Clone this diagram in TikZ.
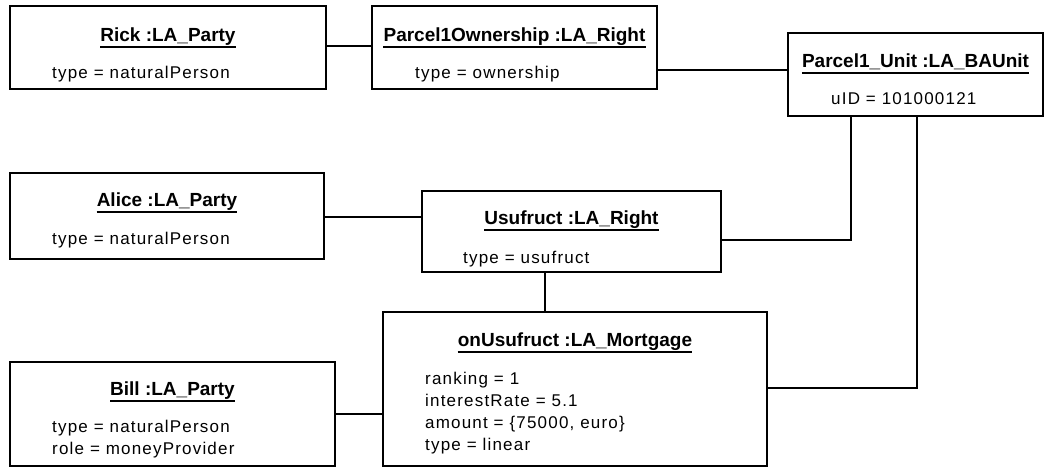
\documentclass[tikz,border=0pt]{standalone}
\usepackage{fontspec}
\setmainfont{Liberation Sans}
\newfontfamily\attrfont[LetterSpace=7]{Liberation Sans}
\begin{document}
\begin{tikzpicture}[x=1pt,y=-1pt,
  box/.style={draw, line width=1.8pt, rectangle, inner sep=0pt},
  ttl/.style={anchor=base, inner sep=0pt, font=\bfseries\fontsize{19}{22}\selectfont},
  attr/.style={anchor=base west, inner sep=0pt, font=\attrfont\fontsize{17}{22}\selectfont},
  conn/.style={line width=1.8pt},
  uline/.style={line width=1.6pt}]
\useasboundingbox (0,0) rectangle (1044,467);
% boxes
\node[box, minimum width=316pt, minimum height=83pt] (rick) at (168,47.5) {};
\node[box, minimum width=285pt, minimum height=83pt] (p1o) at (514.5,47.5) {};
\node[box, minimum width=255pt, minimum height=83pt] (unit) at (915.5,74.5) {};
\node[box, minimum width=314pt, minimum height=86pt] (alice) at (167,216) {};
\node[box, minimum width=299pt, minimum height=81pt] (usu) at (571.5,231.5) {};
\node[box, minimum width=384pt, minimum height=154pt] (mort) at (575,389) {};
\node[box, minimum width=325pt, minimum height=104pt] (bill) at (172.5,414) {};
% titles
\node[ttl] (rickT) at (168,41) {Rick :LA\_Party};
\node[ttl] (p1oT) at (514.5,41) {Parcel1Ownership :LA\_Right};
\node[ttl] (unitT) at (915.5,67) {Parcel1\_Unit :LA\_BAUnit};
\node[ttl] (aliceT) at (167,206) {Alice :LA\_Party};
\node[ttl] (usuT) at (571.5,224) {Usufruct :LA\_Right};
\node[ttl] (mortT) at (575,346) {onUsufruct :LA\_Mortgage};
\node[ttl] (billT) at (172.5,395) {Bill :LA\_Party};
\foreach \t in {rickT,p1oT,unitT,aliceT,usuT,mortT,billT}
  \draw[uline] ([yshift=-6pt]\t.base west) -- ([yshift=-6pt]\t.base east);
% attributes
\node[attr] (rickA) at (52,78) {type = naturalPerson};
\node[attr] (p1oA) at (415,78) {type = ownership};
\node[attr] (unitA) at (831,104) {uID = 101000121};
\node[attr] (aliceA) at (52,244) {type = naturalPerson};
\node[attr] (usuA) at (463,263) {type = usufruct};
\node[attr] (mortA1) at (425,384) {ranking = 1};
\node[attr] (mortA2) at (425,406) {interestRate = 5.1};
\node[attr] (mortA3) at (425,428) {amount = \{75000, euro\}};
\node[attr] (mortA4) at (425,450) {type = linear};
\node[attr] (billA1) at (52,432) {type = naturalPerson};
\node[attr] (billA2) at (52,454) {role = moneyProvider};
% connectors
\draw[conn] (rick.east |- 0,46) -- (p1o.west |- 0,46);
\draw[conn] (p1o.east |- 0,70) -- (unit.west |- 0,70);
\draw[conn] (unit.south -| 851,0) |- (usu.east |- 0,240);
\draw[conn] (unit.south -| 917,0) |- (mort.east |- 0,388);
\draw[conn] (alice.east |- 0,217) -- (usu.west |- 0,217);
\draw[conn] (usu.south -| 545,0) -- (mort.north -| 545,0);
\draw[conn] (bill.east |- 0,414) -- (mort.west |- 0,414);
\end{tikzpicture}
\end{document}
